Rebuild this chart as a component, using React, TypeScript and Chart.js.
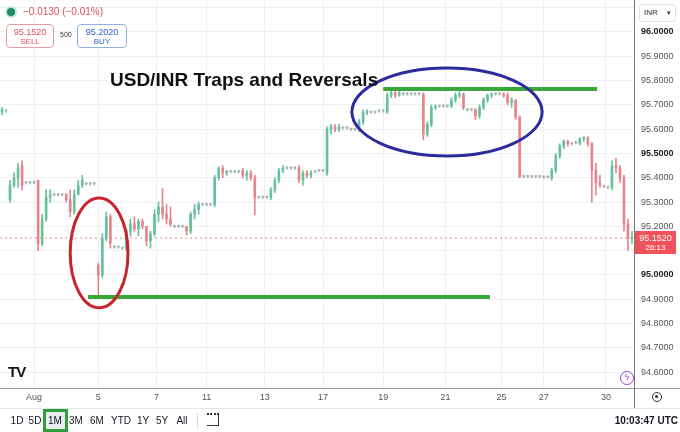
import React, { useEffect, useRef } from "react";
import Chart from "chart.js/auto";

type Candle = [number, number, number, number]; // open, high, low, close

// candles, one slot each, grouped by session
const julTail: Candle[] = [
  [95.67, 95.69, 95.66, 95.68], [95.675, 95.68, 95.67, 95.675],
  [95.31, 95.39, 95.30, 95.37], [95.37, 95.42, 95.36, 95.40], [95.40, 95.46, 95.36, 95.44],
  [95.45, 95.47, 95.35, 95.37], [95.38, 95.385, 95.375, 95.38], [95.38, 95.385, 95.375, 95.38],
  [95.38, 95.385, 95.375, 95.38],
];
const aug1to4: Candle[] = [
  [95.39, 95.39, 95.10, 95.13], [95.13, 95.25, 95.12, 95.23], [95.23, 95.35, 95.22, 95.32],
  [95.32, 95.35, 95.30, 95.33], [95.33, 95.335, 95.325, 95.33], [95.33, 95.335, 95.325, 95.33],
  [95.33, 95.335, 95.325, 95.33], [95.33, 95.335, 95.30, 95.31], [95.31, 95.35, 95.24, 95.26],
  [95.26, 95.35, 95.25, 95.33], [95.33, 95.39, 95.33, 95.37], [95.37, 95.41, 95.36, 95.39],
  [95.375, 95.38, 95.37, 95.375], [95.375, 95.38, 95.37, 95.375], [95.375, 95.38, 95.37, 95.375],
];
const aug5to6: Candle[] = [
  [95.04, 95.05, 94.915, 95.00], [95.00, 95.17, 94.99, 95.15], [95.15, 95.26, 95.14, 95.24],
  [95.24, 95.25, 95.11, 95.13], [95.115, 95.12, 95.11, 95.115], [95.115, 95.12, 95.11, 95.115],
  [95.11, 95.115, 95.105, 95.11], [95.11, 95.19, 95.10, 95.18], [95.18, 95.23, 95.16, 95.21],
  [95.21, 95.24, 95.18, 95.19], [95.19, 95.23, 95.16, 95.22], [95.22, 95.23, 95.19, 95.20],
  [95.20, 95.20, 95.12, 95.14], [95.14, 95.18, 95.11, 95.17],
];
const aug7to8: Candle[] = [
  [95.17, 95.27, 95.16, 95.25], [95.25, 95.30, 95.22, 95.28], [95.28, 95.355, 95.23, 95.25],
  [95.25, 95.29, 95.21, 95.23], [95.23, 95.28, 95.20, 95.21], [95.20, 95.205, 95.195, 95.20],
  [95.20, 95.205, 95.195, 95.20], [95.20, 95.205, 95.195, 95.20], [95.20, 95.20, 95.165, 95.18],
  [95.18, 95.26, 95.17, 95.25], [95.25, 95.29, 95.23, 95.27], [95.27, 95.30, 95.25, 95.29],
  [95.29, 95.295, 95.285, 95.29], [95.29, 95.295, 95.285, 95.29], [95.29, 95.295, 95.285, 95.29],
];
const aug11to12: Candle[] = [
  [95.29, 95.41, 95.28, 95.40], [95.40, 95.445, 95.39, 95.44], [95.44, 95.45, 95.40, 95.42],
  [95.42, 95.43, 95.41, 95.425], [95.425, 95.43, 95.42, 95.425], [95.425, 95.43, 95.42, 95.425],
  [95.425, 95.43, 95.42, 95.425], [95.43, 95.44, 95.40, 95.41], [95.41, 95.43, 95.39, 95.42],
  [95.42, 95.43, 95.39, 95.40], [95.40, 95.41, 95.247, 95.32], [95.32, 95.325, 95.315, 95.32],
  [95.32, 95.325, 95.315, 95.32],
];
const aug13to14: Candle[] = [
  [95.32, 95.325, 95.315, 95.32], [95.32, 95.36, 95.31, 95.35], [95.35, 95.40, 95.34, 95.39],
  [95.39, 95.44, 95.38, 95.43], [95.43, 95.45, 95.42, 95.44], [95.44, 95.445, 95.435, 95.44],
  [95.44, 95.445, 95.435, 95.44], [95.44, 95.445, 95.435, 95.44], [95.44, 95.45, 95.38, 95.39],
  [95.39, 95.43, 95.37, 95.42], [95.42, 95.43, 95.40, 95.41], [95.41, 95.43, 95.40, 95.42],
  [95.425, 95.43, 95.42, 95.425], [95.43, 95.435, 95.425, 95.43], [95.43, 95.435, 95.425, 95.43],
];
const aug17to18: Candle[] = [
  [95.42, 95.61, 95.41, 95.60], [95.60, 95.62, 95.58, 95.61], [95.61, 95.62, 95.59, 95.60],
  [95.60, 95.62, 95.59, 95.61], [95.605, 95.61, 95.60, 95.605], [95.605, 95.61, 95.60, 95.605],
  [95.60, 95.605, 95.595, 95.60], [95.60, 95.605, 95.595, 95.60], [95.60, 95.64, 95.59, 95.63],
  [95.63, 95.68, 95.62, 95.67], [95.67, 95.68, 95.66, 95.675], [95.67, 95.675, 95.665, 95.67],
  [95.67, 95.675, 95.665, 95.67], [95.675, 95.68, 95.67, 95.675], [95.675, 95.68, 95.67, 95.675],
];
const aug19to20: Candle[] = [
  [95.67, 95.75, 95.665, 95.74], [95.74, 95.76, 95.73, 95.75], [95.75, 95.76, 95.73, 95.74],
  [95.74, 95.755, 95.735, 95.75], [95.745, 95.75, 95.74, 95.745], [95.745, 95.75, 95.74, 95.745],
  [95.745, 95.75, 95.74, 95.745], [95.745, 95.75, 95.74, 95.745], [95.745, 95.75, 95.74, 95.745],
  [95.745, 95.75, 95.556, 95.58], [95.58, 95.63, 95.57, 95.62], [95.62, 95.70, 95.61, 95.69],
  [95.69, 95.70, 95.68, 95.695], [95.695, 95.70, 95.69, 95.695], [95.695, 95.70, 95.69, 95.695],
];
const aug21to22: Candle[] = [
  [95.695, 95.70, 95.69, 95.695], [95.695, 95.73, 95.69, 95.72], [95.72, 95.75, 95.71, 95.74],
  [95.74, 95.755, 95.73, 95.745], [95.745, 95.75, 95.68, 95.69], [95.68, 95.685, 95.675, 95.68],
  [95.68, 95.685, 95.675, 95.68], [95.68, 95.685, 95.64, 95.655], [95.655, 95.70, 95.645, 95.69],
  [95.69, 95.73, 95.68, 95.72], [95.72, 95.745, 95.71, 95.74], [95.74, 95.75, 95.73, 95.745],
  [95.745, 95.75, 95.74, 95.745], [95.745, 95.75, 95.74, 95.745],
];
const aug25to26: Candle[] = [
  [95.745, 95.75, 95.73, 95.74], [95.74, 95.75, 95.70, 95.71], [95.71, 95.73, 95.69, 95.72],
  [95.72, 95.72, 95.64, 95.65], [95.65, 95.655, 95.40, 95.405], [95.405, 95.41, 95.40, 95.405],
  [95.405, 95.41, 95.40, 95.405], [95.405, 95.41, 95.40, 95.405], [95.405, 95.41, 95.40, 95.405],
  [95.405, 95.41, 95.40, 95.405],
];
const aug27to29: Candle[] = [
  [95.403, 95.408, 95.398, 95.403], [95.403, 95.408, 95.398, 95.403], [95.40, 95.44, 95.39, 95.43],
  [95.43, 95.50, 95.42, 95.49], [95.49, 95.54, 95.48, 95.53], [95.53, 95.556, 95.52, 95.55],
  [95.55, 95.555, 95.53, 95.54], [95.54, 95.545, 95.535, 95.54], [95.545, 95.55, 95.54, 95.545],
  [95.54, 95.565, 95.535, 95.56], [95.56, 95.57, 95.55, 95.565], [95.565, 95.57, 95.53, 95.54],
  [95.54, 95.545, 95.30, 95.43], [95.43, 95.46, 95.33, 95.38], [95.38, 95.41, 95.36, 95.37],
  [95.365, 95.37, 95.36, 95.365],
];
const aug30: Candle[] = [
  [95.36, 95.365, 95.355, 95.36], [95.36, 95.47, 95.35, 95.45], [95.45, 95.48, 95.42, 95.44],
  [95.44, 95.45, 95.38, 95.40], [95.40, 95.41, 95.18, 95.21], [95.21, 95.23, 95.10, 95.15],
  [95.15, 95.18, 95.13, 95.152],
];

const candles: Candle[] = [
  ...julTail, ...aug1to4, ...aug5to6, ...aug7to8, ...aug11to12, ...aug13to14,
  ...aug17to18, ...aug19to20, ...aug21to22, ...aug25to26, ...aug27to29, ...aug30,
];

const dayTicks = [8, 24, 38.5, 51, 65.5, 80, 95, 110.5, 124.5, 135, 150.5];
const dayLabels = ["Aug", "5", "7", "11", "13", "17", "19", "21", "25", "27", "30"];

const lastPrice = 95.152;
const resistance = { from: 95, to: 148.3, level: 95.765 };
const support = { from: 21.4, to: 121.6, level: 94.909 };
// rings drawn around the two reversal zones (centre + radii in data units)
const rings = [
  { x: 110.9, y: 95.671, rx: 23.7, ry: 0.181, color: "#2c2b9e" },
  { x: 24.2, y: 95.091, rx: 7.2, ry: 0.226, color: "#c8262e" },
];

const UP = "#68c09f";
const DOWN = "#e8858c";
const FLAT = "#a7b5b0";
const GREEN_LINE = "#39a83b";
const FONT = "'Liberation Sans', Arial, sans-serif";

const ringPlugin = {
  id: "rings",
  afterDatasetsDraw(chart: any) {
    const { ctx, scales } = chart;
    const x = scales.x;
    const y = scales.y;
    rings.forEach((r) => {
      const cx = x.getPixelForValue(r.x);
      const cy = y.getPixelForValue(r.y);
      const rx = Math.abs(x.getPixelForValue(r.x + r.rx) - cx);
      const ry = Math.abs(y.getPixelForValue(r.y + r.ry) - cy);
      ctx.save();
      ctx.beginPath();
      ctx.ellipse(cx, cy, rx, ry, 0, 0, Math.PI * 2);
      ctx.lineWidth = 3;
      ctx.strokeStyle = r.color;
      ctx.stroke();
      ctx.restore();
    });
  },
};

const isMajor = (v: number) => Math.abs(v * 2 - Math.round(v * 2)) < 1e-6;

export default function App() {
  const chartRef = useRef<HTMLCanvasElement>(null);

  useEffect(() => {
    const ctx = chartRef.current?.getContext("2d");
    if (!ctx) return;
    const colors = candles.map((c) => {
      if (c[1] - c[2] < 0.012) return FLAT; // quiet off-hours bars
      return c[3] >= c[0] ? UP : DOWN;
    });
    const myChart = new Chart(ctx, {
      type: "bar",
      data: {
        datasets: [
          {
            type: "line",
            data: [
              { x: -0.5, y: lastPrice },
              { x: candles.length - 0.5, y: lastPrice },
            ],
            borderColor: "#e5868c",
            borderWidth: 1,
            borderDash: [2, 3],
            pointRadius: 0,
            order: 5,
          } as any,
          {
            data: candles.map((c, i) => ({ x: i, y: [c[2], c[1]] })),
            backgroundColor: colors,
            barThickness: 1,
            grouped: false,
            order: 3,
          },
          {
            data: candles.map((c, i) => ({ x: i, y: [c[0], c[3]] })),
            backgroundColor: colors,
            barThickness: 2,
            minBarLength: 1,
            grouped: false,
            order: 2,
          },
          {
            type: "line",
            data: [
              { x: resistance.from, y: resistance.level },
              { x: resistance.to, y: resistance.level },
            ],
            borderColor: GREEN_LINE,
            borderWidth: 4,
            pointRadius: 0,
            order: 0,
          } as any,
          {
            type: "line",
            data: [
              { x: support.from, y: support.level },
              { x: support.to, y: support.level },
            ],
            borderColor: GREEN_LINE,
            borderWidth: 4,
            pointRadius: 0,
            order: 0,
          } as any,
        ],
      },
      options: {
        responsive: true,
        maintainAspectRatio: false,
        animation: false,
        events: [],
        layout: { padding: 0 },
        plugins: { legend: { display: false }, tooltip: { enabled: false } },
        scales: {
          x: {
            type: "linear",
            min: -0.5,
            max: candles.length - 0.5,
            offset: false,
            grid: { color: "#eef0f4", offset: false, drawTicks: false },
            border: { color: "#9a9a9a" },
            afterBuildTicks: (scale: any) => {
              scale.ticks = dayTicks.map((v) => ({ value: v }));
            },
            afterFit: (scale: any) => {
              scale.height = 20;
              scale.paddingLeft = 0;
              scale.paddingRight = 0;
            },
            ticks: {
              autoSkip: false,
              maxRotation: 0,
              padding: 4,
              color: "#555",
              font: { family: FONT, size: 9 },
              callback: (_v: any, i: number) => dayLabels[i],
            },
          },
          y: {
            position: "right",
            min: 96 - 356 / 243,
            max: 96 + 32 / 243,
            grid: { color: "#eef0f4", drawTicks: false },
            border: { color: "#777" },
            afterFit: (scale: any) => {
              scale.width = 46;
              scale.paddingTop = 0;
              scale.paddingBottom = 0;
            },
            ticks: {
              stepSize: 0.1,
              includeBounds: false,
              padding: 7,
              color: (c: any) => (c.tick && isMajor(c.tick.value) ? "#222" : "#555"),
              font: (c: any) => ({
                family: FONT,
                size: 9,
                weight: c.tick && isMajor(c.tick.value) ? "bold" : "normal",
              }),
              callback: (v: any) => (Number(v) > 96.05 ? "" : Number(v).toFixed(4)),
            },
          },
        },
      },
      plugins: [ringPlugin],
    });
    return () => myChart.destroy();
  }, []);

  const toolbar = [
    { t: "1D", x: 17 }, { t: "5D", x: 35 }, { t: "1M", x: 55 }, { t: "3M", x: 76 },
    { t: "6M", x: 97 }, { t: "YTD", x: 121 }, { t: "1Y", x: 143 }, { t: "5Y", x: 162 },
    { t: "All", x: 182 },
  ];

  return (
    <div
      style={{
        position: "fixed",
        left: 0,
        top: 0,
        width: 680,
        height: 432,
        background: "#fff",
        overflow: "hidden",
        fontFamily: FONT,
        color: "#131722",
      }}
    >
      <div style={{ position: "absolute", left: 0, top: 0, width: 680, height: 408 }}>
        <canvas ref={chartRef} />
      </div>

      {/* header */}
      <div
        style={{
          position: "absolute", left: 7, top: 8, width: 8, height: 8, borderRadius: "50%",
          background: "#1d8a68", boxShadow: "0 0 0 2px #c6e8da",
        }}
      />
      <div style={{ position: "absolute", left: 23, top: 6, fontSize: 10, color: "#e0535b" }}>
        −0.0130 (−0.01%)
      </div>
      <div
        style={{
          position: "absolute", left: 6, top: 24, width: 48, height: 24, boxSizing: "border-box",
          border: "1px solid #eb9aa0", borderRadius: 4, background: "#fff", textAlign: "center",
          color: "#e0535b", lineHeight: "10px", paddingTop: 2,
        }}
      >
        <div style={{ fontSize: 9 }}>95.1520</div>
        <div style={{ fontSize: 8 }}>SELL</div>
      </div>
      <div style={{ position: "absolute", left: 60, top: 31, fontSize: 7, color: "#333" }}>500</div>
      <div
        style={{
          position: "absolute", left: 77, top: 24, width: 50, height: 24, boxSizing: "border-box",
          border: "1px solid #8fb0e0", borderRadius: 4, background: "#fff", textAlign: "center",
          color: "#2e62c9", lineHeight: "10px", paddingTop: 2,
        }}
      >
        <div style={{ fontSize: 9 }}>95.2020</div>
        <div style={{ fontSize: 8 }}>BUY</div>
      </div>

      {/* annotation title */}
      <div
        style={{
          position: "absolute", left: 110, top: 70, fontSize: 19, lineHeight: "19px",
          fontWeight: "bold", color: "#111", whiteSpace: "nowrap",
        }}
      >
        USD/INR Traps and Reversals
      </div>

      {/* price axis extras */}
      <div
        style={{
          position: "absolute", left: 639, top: 4, width: 37, height: 18, boxSizing: "border-box",
          border: "1px solid #e0e3eb", borderRadius: 3, background: "#fff", fontSize: 8,
          lineHeight: "16px", paddingLeft: 4, color: "#333",
        }}
      >
        INR<span style={{ position: "absolute", right: 4, fontSize: 7 }}>▾</span>
      </div>
      <div
        style={{
          position: "absolute", left: 635, top: 231, width: 41, height: 23, background: "#f0525c",
          color: "#fff", textAlign: "center", fontSize: 9, lineHeight: "10px", paddingTop: 2,
          boxSizing: "border-box",
        }}
      >
        <div>95.1520</div>
        <div style={{ fontSize: 8 }}>26:13</div>
      </div>

      {/* logo and lightning */}
      <div
        style={{
          position: "absolute", left: 8, top: 363, fontSize: 15, fontWeight: 900,
          letterSpacing: -1, color: "#111",
        }}
      >
        TV
      </div>
      <div
        style={{
          position: "absolute", left: 620, top: 371, width: 14, height: 14, boxSizing: "border-box",
          border: "1.5px solid #9c3fc8", borderRadius: "50%", color: "#9c3fc8", fontSize: 9,
          lineHeight: "11px", textAlign: "center", background: "#fff",
        }}
      >
        ϟ
      </div>

      {/* frame lines */}
      <div style={{ position: "absolute", left: 634, top: 388, width: 46, height: 1, background: "#9a9a9a" }} />
      <div style={{ position: "absolute", left: 634, top: 388, width: 1, height: 20, background: "#777" }} />
      <div style={{ position: "absolute", left: 0, top: 408, width: 680, height: 1, background: "#e3e5ea" }} />
      <div
        style={{
          position: "absolute", left: 652, top: 392, width: 10, height: 10, boxSizing: "border-box",
          border: "1.5px solid #333", borderRadius: "50%",
        }}
      >
        <div style={{ position: "absolute", left: 2, top: 2, width: 3, height: 3, borderRadius: "50%", background: "#333" }} />
      </div>

      {/* bottom toolbar */}
      <div
        style={{
          position: "absolute", left: 43, top: 409, width: 25, height: 23, boxSizing: "border-box",
          border: "3px solid #2e9e3e", background: "#e9ebee",
        }}
      />
      {toolbar.map((b) => (
        <div
          key={b.t}
          style={{
            position: "absolute", left: b.x - 15, width: 30, top: 415, textAlign: "center",
            fontSize: 10, lineHeight: "12px", color: "#131722",
          }}
        >
          {b.t}
        </div>
      ))}
      <div style={{ position: "absolute", left: 197, top: 413, width: 1, height: 16, background: "#d6d8de" }} />
      <div
        style={{
          position: "absolute", left: 207, top: 413, width: 12, height: 13, boxSizing: "border-box",
          borderTop: "2px dotted #333", borderBottom: "1px solid #333", borderRight: "1px solid #333",
        }}
      />
      <div
        style={{
          position: "absolute", left: 610, width: 68, top: 415, textAlign: "right", fontSize: 10,
          lineHeight: "12px", fontWeight: "bold", color: "#131722",
        }}
      >
        10:03:47 UTC
      </div>
    </div>
  );
}
